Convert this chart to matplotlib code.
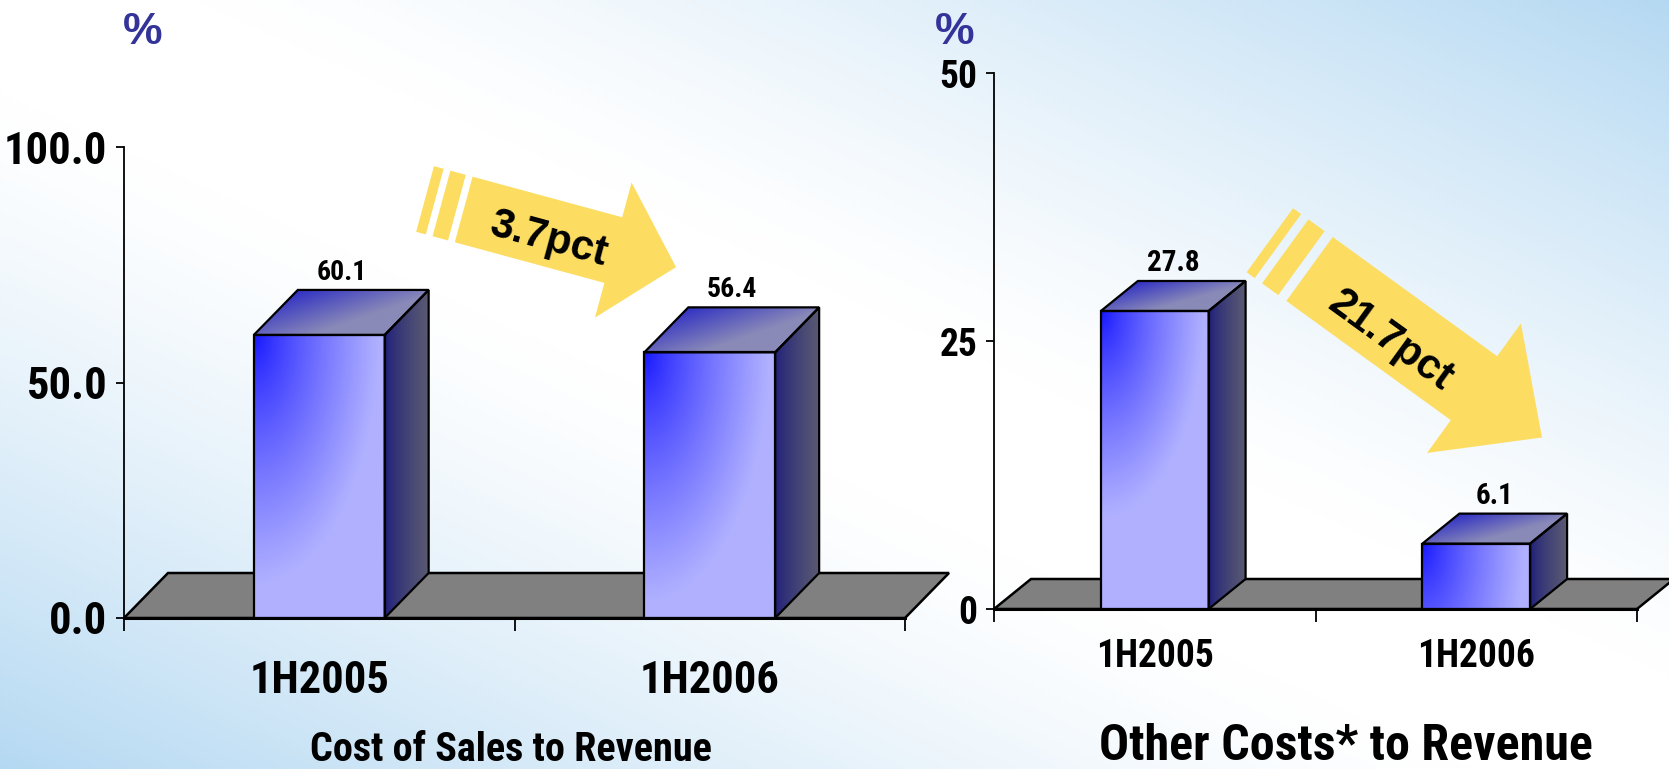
import numpy as np
import matplotlib.pyplot as plt
from matplotlib.patches import Polygon
from matplotlib.ticker import FormatStrFormatter
from matplotlib.transforms import IdentityTransform

categories = ['1H2005', '1H2006']
cost_of_sales = [60.1, 56.4]
other_costs = [27.8, 6.1]
cost_ticks = [0, 50, 100]
other_ticks = [0, 25, 50]
cost_change = '3.7pct'
other_change = '21.7pct'

NARROW = ['Roboto Condensed', 'Liberation Sans', 'DejaVu Sans']
WIDE = ['Liberation Sans', 'DejaVu Sans']

W, H = 1669, 769
fig = plt.figure(figsize=(W / 100, H / 100), dpi=100)

# diagonal background: blue at bottom-left / top-right, white across the middle
bg = fig.add_axes([0, 0, 1, 1], zorder=-10)
gx, gy = np.meshgrid(np.linspace(0, 1, 400), np.linspace(0, 1, 200))
d = np.abs(gx - gy)
a = np.clip((d - 0.12) / 0.88, 0, 1) ** 1.3
blue = np.array([0.71, 0.85, 0.95])
bg.imshow(1 - a[..., None] * (1 - blue), extent=[0, 1, 0, 1], origin='upper', aspect='auto')
bg.set_axis_off()


def add_axes_px(left, top, right, bottom):
    return fig.add_axes([left / W, 1 - bottom / H, (right - left) / W, (bottom - top) / H])


def px_scale(ax):
    pos = ax.get_position()
    x0, x1 = ax.get_xlim()
    y0, y1 = ax.get_ylim()
    return pos.width * W / (x1 - x0), pos.height * H / (y1 - y0)


def hexrgb(c):
    c = c.lstrip('#')
    return np.array([int(c[i:i + 2], 16) / 255 for i in (0, 2, 4)])


def mix(c0, c1, t):
    c0, c1 = hexrgb(c0), hexrgb(c1)
    return c0 + (c1 - c0) * t[..., None]


def shaded_face(ax, pts, extent, rgb, z):
    clip = Polygon(pts, closed=True, fc='none', ec='none')
    ax.add_patch(clip)
    im = ax.imshow(rgb, extent=extent, origin='lower', aspect='auto',
                   interpolation='bilinear', zorder=z)
    im.set_clip_path(clip)
    ax.add_patch(Polygon(pts, closed=True, fc='none', ec='black', lw=1.6, zorder=z + 0.5))


def bar3d(ax, xc, val, width, ddx, ddy, z=3):
    xpx, ypx = px_scale(ax)
    x0, x1 = xc - width / 2, xc + width / 2
    n = 160

    # front face, bright blue fading from the top-left corner
    X, Y = np.meshgrid(np.linspace(x0, x1, n), np.linspace(0, val, n))
    u = (X - x0) / width
    v = (val - Y) * ypx / (width * xpx)
    t = np.clip(np.hypot(u / 0.95, v / 1.9), 0, 1) ** 0.8
    shaded_face(ax, [(x0, 0), (x1, 0), (x1, val), (x0, val)],
                [x0, x1, 0, val], mix('#1414ff', '#b0b0ff', t), z)

    # top face
    X, Y = np.meshgrid(np.linspace(x0, x1 + ddx, n), np.linspace(val, val + ddy, n))
    r = (Y - val) / ddy
    s = (X - x0 - r * ddx) / width
    t = np.clip(0.9 * s + 0.6 * (1 - r), 0, 1)
    shaded_face(ax, [(x0, val), (x1, val), (x1 + ddx, val + ddy), (x0 + ddx, val + ddy)],
                [x0, x1 + ddx, val, val + ddy], mix('#3030c4', '#8a8ab8', t), z)

    # right side face
    X, Y = np.meshgrid(np.linspace(x1, x1 + ddx, n), np.linspace(0, val + ddy, n))
    s = np.clip((X - x1) / ddx, 0, 1)
    shaded_face(ax, [(x1, 0), (x1 + ddx, ddy), (x1 + ddx, val + ddy), (x1, val)],
                [x1, x1 + ddx, 0, val + ddy], mix('#1c1c7c', '#5a5a72', s ** 0.7), z)


def block_arrow(ax, start, end, body, head_w, head_len, stripes, label, fs, frac, off):
    p0 = ax.transData.transform(start)
    p1 = ax.transData.transform(end)
    L = np.hypot(*(p1 - p0))
    dvec = (p1 - p0) / L
    nvec = np.array([-dvec[1], dvec[0]])

    def pt(al, side):
        return p0 + dvec * al + nvec * side

    col = '#fcdd62'
    a = 0
    for w, gap in stripes:
        quad = [pt(a, body / 2), pt(a + w, body / 2), pt(a + w, -body / 2), pt(a, -body / 2)]
        fig.add_artist(Polygon(quad, closed=True, fc=col, ec='none', transform=IdentityTransform(), zorder=5))
        a += w + gap
    hb = L - head_len
    shape = [pt(a, body / 2), pt(hb, body / 2), pt(hb, head_w / 2), pt(L, 0),
             pt(hb, -head_w / 2), pt(hb, -body / 2), pt(a, -body / 2)]
    fig.add_artist(Polygon(shape, closed=True, fc=col, ec='none', transform=IdentityTransform(), zorder=5))

    ang = np.degrees(np.arctan2(dvec[1], dvec[0]))
    c = pt(a + (hb - a) * frac, off)
    fig.text(c[0] / W, c[1] / H, label, rotation=ang, rotation_mode='anchor',
             ha='center', va='center', fontsize=fs, fontweight='bold', family=WIDE, zorder=6)


def chart(box, values, ticks, fmt, depth_px, tick_fs, cat_fs, cat_drop, val_fs):
    ax = add_axes_px(*box)
    ax.set_facecolor('none')
    ax.set_xlim(0, len(values))
    ax.set_ylim(ticks[0], ticks[-1])
    ddx, ddy = (dp / s for dp, s in zip(depth_px, px_scale(ax)))

    for side in ('top', 'right'):
        ax.spines[side].set_visible(False)
    ax.spines['left'].set_linewidth(1.3)
    ax.spines['bottom'].set_linewidth(2.2)
    ax.spines['bottom'].set_zorder(4)
    ax.set_yticks(ticks)
    ax.yaxis.set_major_formatter(FormatStrFormatter(fmt))
    ax.set_xticks(range(len(values) + 1))
    ax.set_xticklabels([])
    ax.tick_params(axis='y', length=6, width=1.3, pad=6, labelsize=tick_fs)
    ax.tick_params(axis='x', length=9, width=1.3)
    for lab in ax.get_yticklabels():
        lab.set_fontweight('bold')
        lab.set_family(NARROW)

    n = len(values)
    floor = Polygon([(0, 0), (n, 0), (n + ddx, ddy), (ddx, ddy)], closed=True,
                    fc='#808080', ec='black', lw=1.8, clip_on=False, zorder=1)
    ax.add_patch(floor)

    width = 0.335
    for i, (cat, val) in enumerate(zip(categories, values)):
        xc = i + 0.5
        bar3d(ax, xc, val, width, ddx, ddy)
        ax.annotate(f'{val:.1f}', (xc + ddx / 2, val + ddy), xytext=(0, 10),
                    textcoords='offset pixels', ha='center', va='baseline',
                    fontsize=val_fs, fontweight='bold', family=NARROW, annotation_clip=False)
        ax.annotate(cat, (xc, 0), xytext=(0, -cat_drop), textcoords='offset pixels',
                    ha='center', va='baseline', fontsize=cat_fs, fontweight='bold',
                    family=NARROW, annotation_clip=False)
    return ax


ax1 = chart((124, 147, 905, 618), cost_of_sales, cost_ticks, '%.1f', (44, 45), 32, 32, 75, 20)
ax2 = chart((994, 73, 1637, 609), other_costs, other_ticks, '%d', (37, 30), 27, 27, 58, 21)

block_arrow(ax1, (0.771, 88.96), (1.4136, 74.5), 68, 140, 65, [(10, 7), (16, 7)],
            cost_change, 30, 0.58, -7)
block_arrow(ax2, (0.858, 34.4), (1.7045, 16.0), 79, 160, 84, [(10, 9), (20, 10)],
            other_change, 30, 0.53, -11)

fig.text(511 / W, 1 - 761 / H, 'Cost of Sales to Revenue', ha='center', va='baseline',
         fontsize=29, fontweight='bold', family=NARROW)
fig.text(1346 / W, 1 - 760 / H, 'Other Costs* to Revenue', ha='center', va='baseline',
         fontsize=36, fontweight='bold', family=NARROW)
for x in (143, 955):
    fig.text(x / W, 1 - 44 / H, '%', ha='center', va='baseline', color='#333399',
             fontsize=32, fontweight='bold', family=WIDE)

fig.savefig('out.png', dpi=100)
